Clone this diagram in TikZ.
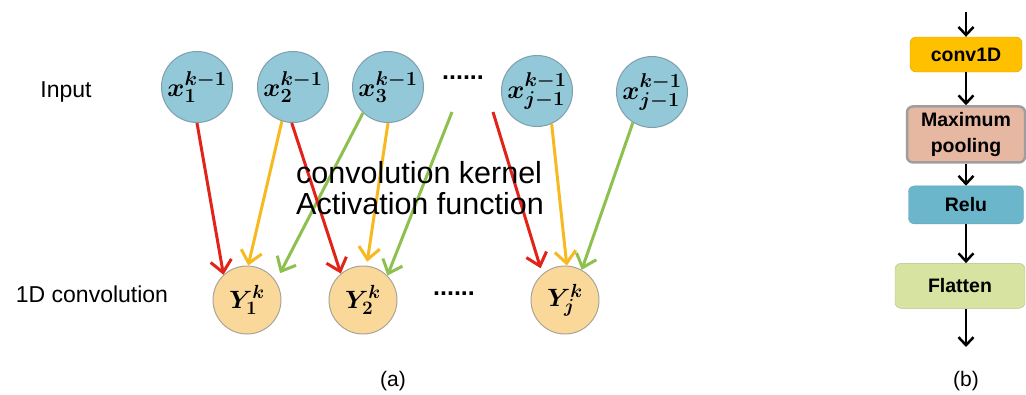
\RequirePackage{fix-cm}
\documentclass[tikz,border=0pt]{standalone}
\usepackage{fontspec}
\setmainfont{Liberation Sans}
\usepackage{bm}
\usetikzlibrary{arrows.meta,positioning}
\DeclareMathSizes{26}{26}{20}{15}
\DeclareMathSizes{25}{25}{19}{14}
\definecolor{incirc}{HTML}{93C8D8}
\definecolor{inedge}{HTML}{7F9FAD}
\definecolor{outcirc}{HTML}{FAD89A}
\definecolor{outedge}{HTML}{A9A49A}
\definecolor{kred}{HTML}{E2231A}
\definecolor{kyel}{HTML}{F7B920}
\definecolor{kgrn}{HTML}{8DC04F}
\definecolor{convc}{HTML}{FFC000}
\definecolor{poolc}{HTML}{E6B8A2}
\definecolor{reluc}{HTML}{6BB6CB}
\definecolor{flatc}{HTML}{D7E3A0}
\tikzset{
	inode/.style={circle,draw=inedge,fill=incirc,line width=1pt,
		minimum size=71pt,inner sep=0pt,font=\fontsize{26}{30}\selectfont},
	onode/.style={circle,draw=outedge,fill=outcirc,line width=1pt,
		minimum size=68pt,inner sep=0pt,font=\fontsize{25}{30}\selectfont},
	karr/.style={line width=3pt,-{Straight Barb[length=12pt,width=21pt]}},
	layer/.style={draw,rounded corners=6pt,inner sep=0pt,align=center,
		font=\bfseries\fontsize{19.5}{26}\selectfont},
	flow/.style={line width=2.5pt,-{Straight Barb[length=8pt,width=15pt]}},
	lbl/.style={font=\fontsize{23}{26}\selectfont},
	dots/.style={font=\bfseries\fontsize{25}{26}\selectfont}
}
\newcommand{\xin}[1]{$\bm{x_{#1}^{k-1}}$}
\newcommand{\yout}[1]{$\bm{Y_{#1}^{k}}$}

\begin{document}
\begin{tikzpicture}[x=1pt,y=-1pt]
	\useasboundingbox (0,0) rectangle (1026,394);
	% (a) convolution layer
	\node[lbl] (inlbl) at (66,92) {Input};
	\node[lbl] (convlbl) at (92,294) {1D convolution};
	\node[inode] (x1) at (197,87) {\xin{1}};
	\node[inode] (x2) at (293,87) {\xin{2}};
	\node[inode] (x3) at (388,87) {\xin{3}};
	\node[inode] (xj1) at (537,91) {\xin{j-1}};
	\node[inode] (xj) at (652,92) {\xin{j-1}};
	\node[dots] (topdots) at (463,78) {......};
	\node[onode] (y1) at (247,300) {\yout{1}};
	\node[onode] (y2) at (363,300) {\yout{2}};
	\node[onode] (yj) at (565,300) {\yout{j}};
	\node[dots] (botdots) at (454,294) {......};
	\coordinate (g2start) at (452,112);
	\coordinate (rjstart) at (493,112);
	\draw[karr,kred] (x1.270) -- (y1.133);
	\draw[karr,kyel] (x2.252) -- (y1.88);
	\draw[karr,kgrn,shorten >=9pt] (x3.226) -- (y1.33);
	\draw[karr,kred] (x2.268) -- (y2.130);
	\draw[karr,kyel,shorten >=4pt] (x3.270) -- (y2.84);
	\draw[karr,kgrn] (g2start) -- (y2.45);
	\draw[karr,kred,shorten >=6pt] (rjstart) -- (yj.131);
	\draw[karr,kyel] (xj1.294) -- (yj.87);
	\draw[karr,kgrn] (xj.238) -- (yj.61);
	\node[font=\fontsize{30.5}{31}\selectfont,align=left] (kern) at (420,188)
		{convolution kernel\\Activation function};
	\node[font=\fontsize{21}{24}\selectfont] (suba) at (393,381) {(a)};
	% (b) layer stack
	\node[layer,draw=convc!85!black,fill=convc,minimum width=112pt,minimum height=35pt]
		(conv) at (966,54.5) {conv1D};
	\node[layer,draw=black!38,line width=2.5pt,fill=poolc,minimum width=118pt,minimum height=56pt,
		below=33pt of conv] (pool) {Maximum\\pooling};
	\node[layer,draw=reluc!90!black,fill=reluc,minimum width=115pt,minimum height=38pt,
		below=22pt of pool] (relu) {Relu};
	\node[layer,draw=flatc!85!black,fill=flatc,minimum width=130pt,minimum height=45pt,
		below=39pt of relu,xshift=-6pt] (flat) {Flatten};
	\coordinate (intop) at (966,12);
	\coordinate (outbot) at (966,347);
	\draw[flow] (intop) -- (conv);
	\draw[flow] (conv) -- (pool);
	\draw[flow] (pool) -- (relu);
	\draw[flow] (relu.south) -- (relu.south |- flat.north);
	\draw[flow] (flat.south -| outbot) -- (outbot);
	\node[font=\fontsize{21}{24}\selectfont] (subb) at (966,381) {(b)};
\end{tikzpicture}
\end{document}
